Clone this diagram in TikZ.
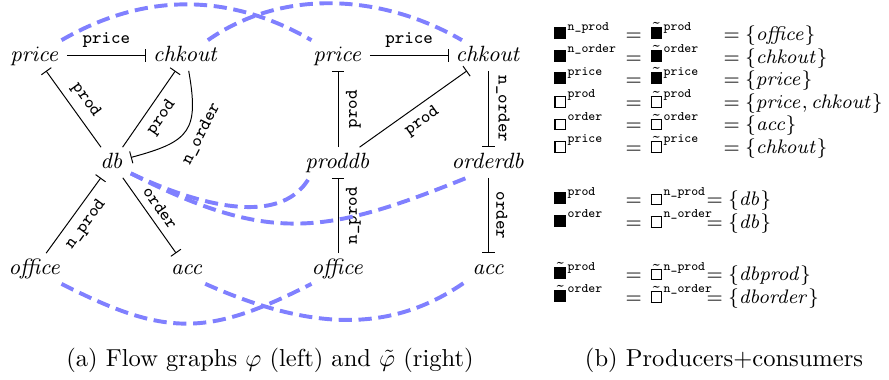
\documentclass[tikz,border=0pt]{standalone}
\usepackage{amsmath}
\usetikzlibrary{arrows.meta}
\newcommand\bsq{\rule[0.6pt]{4.8pt}{4.8pt}}
\newcommand\wsq{\raisebox{0.6pt}{\setlength\fboxsep{0pt}\setlength\fboxrule{0.45pt}\fbox{\rule{0pt}{3.9pt}\rule{3.9pt}{0pt}}}}
\newcommand\tbsq{$\tilde{\mbox{\bsq}}$}
\newcommand\twsq{$\tilde{\mbox{\wsq}}$}
\newcommand\sx[1]{\hspace{0.6pt}\raisebox{4.3pt}{\fontsize{5.3}{6}\selectfont\ttfamily #1}}
\newcommand\trow[6]{%
  \node[tab] (#1a) at (554,-#2) {#3};
  \node[tab] (#1e) at (625,-#2) {$=$};
  \node[tab] (#1b) at (650,-#2) {#4};
  \node[tab] (#1c) at (#5,-#2) {$=\{#6\}$};
}
\begin{document}
\begin{tikzpicture}[x=0.408pt,y=0.408pt,
  gn/.style={font=\fontsize{8.6}{10}\selectfont, inner sep=2.7pt, text height=5.6pt, text depth=1.1pt},
  lab/.style={font=\fontsize{7.3}{8}\selectfont\ttfamily, inner sep=3pt},
  tbar/.style={-{Bar[width=5pt]}, line width=0.4pt},
  dsh/.style={draw=blue!50, line width=1.6pt, dash pattern=on 5.4pt off 2.7pt},
  tab/.style={anchor=base west, inner sep=0pt, font=\fontsize{8}{9.6}\selectfont}]
\useasboundingbox (0,0) rectangle (889,-379);
% left graph
\node[gn] (lprice) at (35,-55.5) {$\mathit{price}$};
\node[gn] (lchk) at (186,-55.5) {$\mathit{chkout}$};
\node[gn] (ldb) at (112,-162.5) {$\mathit{db}$};
\node[gn] (loff) at (35,-268.5) {$\mathit{office}$};
\node[gn] (lacc) at (187,-268.5) {$\mathit{acc}$};
% right graph
\node[gn] (rprice) at (338,-55.5) {$\mathit{price}$};
\node[gn] (rchk) at (488.5,-55.5) {$\mathit{chkout}$};
\node[gn] (rpdb) at (338,-162.5) {$\mathit{proddb}$};
\node[gn] (rodb) at (488.5,-162.5) {$\mathit{orderdb}$};
\node[gn] (roff) at (338,-268.5) {$\mathit{office}$};
\node[gn] (racc) at (488.5,-268.5) {$\mathit{acc}$};
% left edges
\draw[tbar] (lprice) -- node[lab,above]{price} (lchk);
\draw[tbar] (ldb) -- node[lab,above,sloped]{prod} (lprice);
\draw[tbar] (ldb) -- node[lab,below,sloped]{prod} (lchk);
\draw[tbar] (lchk) to[out=-80,in=15,looseness=1.5] node[lab,below,sloped,pos=0.45]{n\_order} (ldb);
\draw[tbar] (loff) -- node[lab,below,sloped]{n\_prod} (ldb);
\draw[tbar] (ldb) -- node[lab,above,sloped]{order} (lacc);
% right edges
\draw[tbar] (rprice) -- node[lab,above]{price} (rchk);
\draw[tbar] (rpdb) -- node[lab,below,sloped]{prod} (rprice);
\draw[tbar] (rpdb) -- node[lab,below,sloped]{prod} (rchk);
\draw[tbar] (rchk) -- node[lab,above,sloped]{n\_order} (rodb);
\draw[tbar] (roff) -- node[lab,below,sloped]{n\_prod} (rpdb);
\draw[tbar] (rodb) -- node[lab,above,sloped]{order} (racc);
% dashed correspondences
\draw[dsh] (lprice) to[out=30,in=150,out distance=39pt,in distance=39pt] (rprice);
\draw[dsh] (lchk) to[out=35,in=150,out distance=36.6pt,in distance=38.4pt] (rchk);
\draw[dsh] (ldb.-30) to[out=-25,in=-120,out distance=9.8pt,in distance=29.8pt] (rpdb.208);
\draw[dsh] (ldb.-30) to[out=-27,in=-158,out distance=63pt,in distance=63pt] (rodb.215);
\draw[dsh] (loff.-30) to[out=-27,in=-153,out distance=47.7pt,in distance=47.7pt] (roff.-150);
\draw[dsh] (lacc.-40) to[out=-24,in=-145,out distance=45pt,in distance=38.3pt] (racc.-150);
% table
\trow{r1}{40.7}{\bsq\sx{n\_prod}}{\tbsq\sx{prod}}{723}{\mathit{office}}
\trow{r2}{63}{\bsq\sx{n\_order}}{\tbsq\sx{order}}{723}{\mathit{chkout}}
\trow{r3}{85.7}{\bsq\sx{price}}{\tbsq\sx{price}}{723}{\mathit{price}}
\trow{r4}{108.3}{\wsq\sx{prod}}{\twsq\sx{prod}}{723}{\mathit{price}, \mathit{chkout}}
\trow{r5}{130.7}{\wsq\sx{order}}{\twsq\sx{order}}{723}{\mathit{acc}}
\trow{r6}{153.3}{\wsq\sx{price}}{\twsq\sx{price}}{723}{\mathit{chkout}}
\trow{r7}{205.7}{\bsq\sx{prod}}{\wsq\sx{n\_prod}}{706}{\mathit{db}}
\trow{r8}{228}{\bsq\sx{order}}{\wsq\sx{n\_order}}{706}{\mathit{db}}
\trow{r9}{280.7}{\tbsq\sx{prod}}{\twsq\sx{n\_prod}}{706}{\mathit{dbprod}}
\trow{r10}{303}{\tbsq\sx{order}}{\twsq\sx{n\_order}}{706}{\mathit{dborder}}
% captions
\node[anchor=base, inner sep=0pt] (capa) at (270,-366) {(a) Flow graphs $\varphi$ (left) and $\tilde{\varphi}$ (right)};
\node[anchor=base, inner sep=0pt] (capb) at (724,-366) {(b) Producers+consumers};
\end{tikzpicture}
\end{document}
